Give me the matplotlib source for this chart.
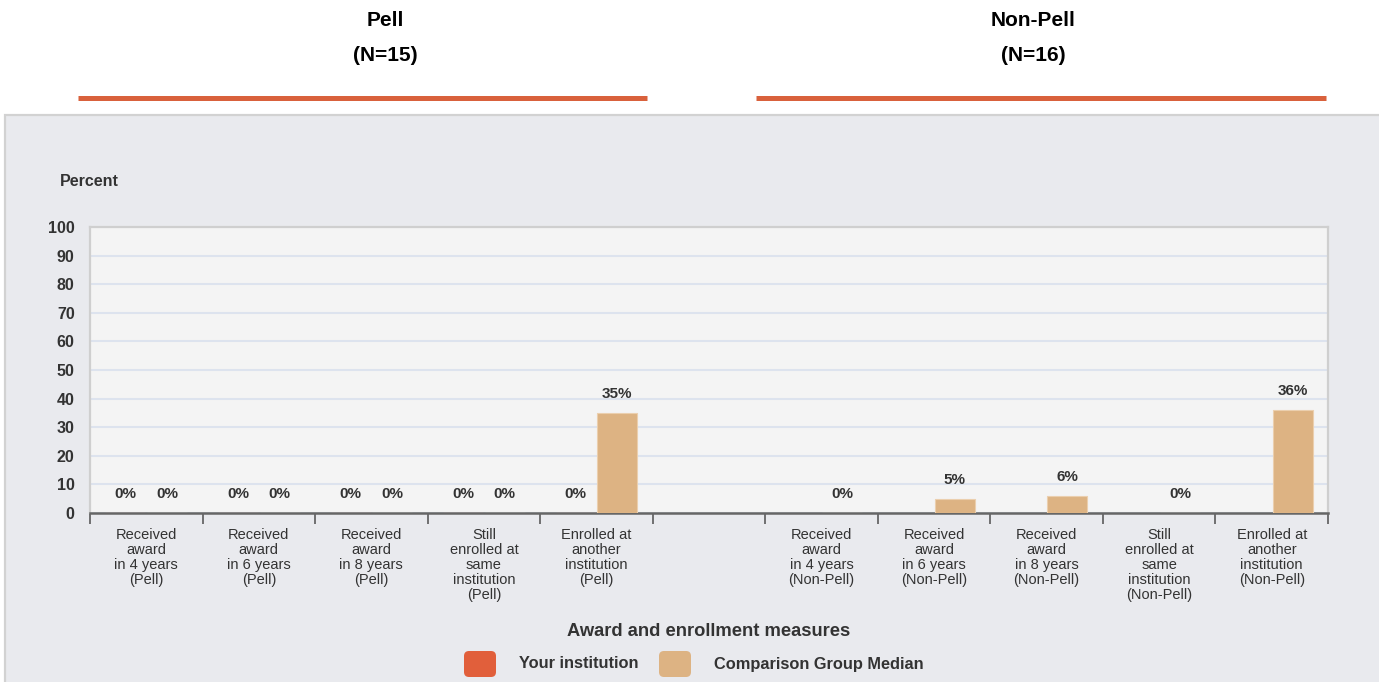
import numpy as np
import matplotlib
matplotlib.use("Agg")
import matplotlib.pyplot as plt
from matplotlib.patches import Rectangle, FancyBboxPatch
from matplotlib.lines import Line2D
from matplotlib.transforms import IdentityTransform

plt.rcParams['font.family'] = ['Liberation Sans', 'DejaVu Sans']

categories = [
    "Received\naward\nin 4 years\n(Pell)",
    "Received\naward\nin 6 years\n(Pell)",
    "Received\naward\nin 8 years\n(Pell)",
    "Still\nenrolled at\nsame\ninstitution\n(Pell)",
    "Enrolled at\nanother\ninstitution\n(Pell)",
    "",
    "Received\naward\nin 4 years\n(Non-Pell)",
    "Received\naward\nin 6 years\n(Non-Pell)",
    "Received\naward\nin 8 years\n(Non-Pell)",
    "Still\nenrolled at\nsame\ninstitution\n(Non-Pell)",
    "Enrolled at\nanother\ninstitution\n(Non-Pell)",
]
your_institution = [0, 0, 0, 0, 0, np.nan, np.nan, np.nan, np.nan, np.nan, np.nan]
comparison_median = [0, 0, 0, 0, 35, np.nan, 0, 5, 6, 0, 36]
group_titles = ["Pell\n(N=15)", "Non-Pell\n(N=16)"]
legend_labels = ["Your institution", "Comparison Group Median"]

c_your = "#e15f3b"
c_comp = "#ddb383"
c_text = "#333333"

W, H = 1379, 682
fig = plt.figure(figsize=(W / 100, H / 100), dpi=100, facecolor="white")

# gray panel behind the chart
panel = Rectangle((5, -10), W + 20, H - 115 + 10, transform=IdentityTransform(),
                  facecolor="#e9eaee", edgecolor="#d2d2d2", linewidth=1.6, zorder=0)
fig.add_artist(panel)

# group headers with orange underline
for title, xc, (x0, x1) in zip(group_titles, [385, 1033], [(78, 647), (756, 1326)]):
    fig.text(xc / W, 1 - 38 / H, title, ha="center", va="center", fontsize=15,
             fontweight="bold", color="black", linespacing=2.05)
    fig.add_artist(Line2D([x0 / W, x1 / W], [1 - 98 / H, 1 - 98 / H],
                          color="#d9613c", linewidth=3.6, solid_capstyle="butt"))

ax = fig.add_axes([90 / W, 1 - 513 / H, (1328 - 90) / W, (513 - 227) / H])
ax.set_facecolor("#f4f4f4")

x = np.arange(len(categories))
off = 0.185
bw = 0.355

yi = np.array(your_institution, dtype=float)
cm = np.array(comparison_median, dtype=float)
m1 = ~np.isnan(yi)
m2 = ~np.isnan(cm)
ax.bar(x[m1] - off, yi[m1], width=bw, color=c_your, edgecolor="#eea58f", linewidth=0.8, zorder=3)
ax.bar(x[m2] + off, cm[m2], width=bw, color=c_comp, edgecolor="#ebcfae", linewidth=0.8, zorder=3)

for xs, vals, mask in [(x - off, yi, m1), (x + off, cm, m2)]:
    for xv, v in zip(xs[mask], vals[mask]):
        ax.annotate(f"{v:.0f}%", (xv, v), xytext=(0, 13.5), textcoords="offset points",
                    ha="center", va="center", fontsize=11, fontweight="bold", color=c_text)

ax.set_xlim(-0.5, len(categories) - 0.5)
ax.set_ylim(0, 100)
ax.set_yticks(np.arange(0, 101, 10))
ax.tick_params(axis="y", length=0, pad=11, labelsize=11.5, labelcolor=c_text)
for lab in ax.get_yticklabels():
    lab.set_fontweight("bold")
ax.yaxis.grid(True, color="#dde3ee", linewidth=1.5, zorder=0)
ax.set_axisbelow(True)

ax.set_xticks(x)
ax.set_xticklabels(categories, fontsize=10.5, color=c_text, linespacing=1.08,
                   family=["Liberation Sans Narrow", "Liberation Sans", "DejaVu Sans"])
ax.tick_params(axis="x", which="major", length=0, pad=11)
ax.set_xticks(np.arange(-0.5, len(categories), 1.0), minor=True)
ax.tick_params(axis="x", which="minor", length=8, width=1.3, color="#666666")

for s in ["top", "left", "right"]:
    ax.spines[s].set_color("#cfcfcf")
    ax.spines[s].set_linewidth(1.6)
ax.spines["bottom"].set_color("#666666")
ax.spines["bottom"].set_linewidth(1.8)

fig.text(60 / W, 1 - 181 / H, "Percent", ha="left", va="center", fontsize=11.5,
         fontweight="bold", color=c_text)
fig.text(709 / W, 1 - 631 / H, "Award and enrollment measures", ha="center", va="center",
         fontsize=13.2, fontweight="bold", color=c_text)

# legend
for (x0, label, col) in [(464, legend_labels[0], c_your), (659, legend_labels[1], c_comp)]:
    box = FancyBboxPatch((x0 + 3, H - 677 + 3), 26, 20, boxstyle="round,pad=3,rounding_size=5",
                         transform=IdentityTransform(), facecolor=col, edgecolor="none")
    fig.add_artist(box)
    fig.text((x0 + 55) / W, 1 - 664 / H, label, ha="left", va="center", fontsize=11.8,
             fontweight="bold", color=c_text)

fig.savefig("out.png", dpi=100, facecolor="white")
